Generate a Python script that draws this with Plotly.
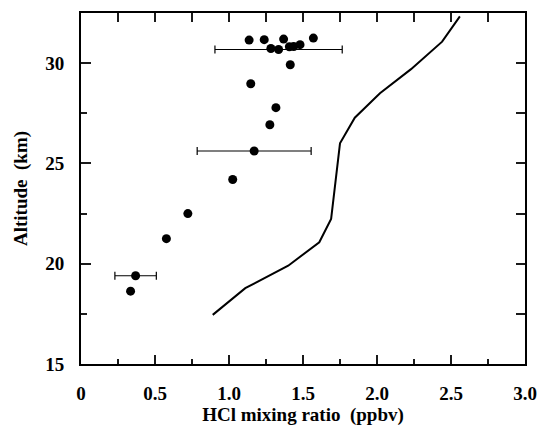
import plotly.graph_objects as go

# Measured points (no error bars)
pts_x = [1.136, 1.238, 1.369, 1.570, 1.283, 1.408, 1.437, 1.480, 1.414,
         1.147, 1.317, 1.276, 1.025, 0.722, 0.577, 0.335]
pts_y = [31.15, 31.17, 31.20, 31.25, 30.73, 30.82, 30.83, 30.92, 29.92,
         28.97, 27.78, 26.93, 24.20, 22.50, 21.25, 18.63]

# Points with error bars
err_x = [1.335, 1.170, 0.369]
err_y = [30.68, 25.62, 19.40]
err_w = [0.43, 0.385, 0.14]

# Model profile
model_x = [0.89, 1.11, 1.40, 1.61, 1.69, 1.75, 1.85, 2.02, 2.23, 2.44, 2.56]
model_y = [17.45, 18.78, 19.90, 21.07, 22.23, 26.00, 27.28, 28.50, 29.70, 31.07, 32.33]

x_ticks = [0, 0.5, 1.0, 1.5, 2.0, 2.5, 3.0]
x_labels = ["0", "0.5", "1.0", "1.5", "2.0", "2.5", "3.0"]
y_ticks = [15, 20, 25, 30]
x_range = [0, 3.0]
y_range = [15, 32.5]

FONT = "Liberation Serif"
INK = "#1a1a1a"
tick_font = dict(family=FONT, size=19, color="black", weight="bold")
title_font = dict(family=FONT, size=19, color="black", weight="bold")

fig = go.Figure()
fig.add_trace(go.Scatter(x=model_x, y=model_y, mode="lines",
                         line=dict(color="black", width=2), showlegend=False))
fig.add_trace(go.Scatter(x=pts_x, y=pts_y, mode="markers",
                         marker=dict(color="black", size=9), showlegend=False))
fig.add_trace(go.Scatter(x=err_x, y=err_y, mode="markers",
                         marker=dict(color="black", size=9),
                         error_x=dict(type="data", array=err_w, color="black",
                                      thickness=1.2, width=4),
                         showlegend=False))
# trace anchoring the top/right tick axes
fig.add_trace(go.Scatter(x=[1.0], y=[20.0], xaxis="x2", yaxis="y2",
                         mode="markers", marker=dict(opacity=0),
                         showlegend=False, hoverinfo="skip"))

base = dict(showgrid=False, zeroline=False, showline=True, linecolor="black",
            linewidth=2, ticks="inside", tickcolor=INK, tickwidth=1.5,
            automargin=False)

fig.update_layout(
    width=539, height=426,
    margin=dict(l=81, r=14, t=13, b=62),
    paper_bgcolor="white", plot_bgcolor="white",
    xaxis=dict(range=x_range, tickvals=x_ticks, ticktext=x_labels,
               tickfont=tick_font, ticklabelstandoff=11, ticklen=9,
               minor=dict(dtick=0.25, ticks="inside", ticklen=5,
                          tickcolor=INK, tickwidth=1.5),
               title=dict(text="HCl mixing ratio  (ppbv)", standoff=6,
                          font=title_font),
               **base),
    yaxis=dict(range=y_range, tickvals=y_ticks, ticklen=10,
               tickfont=tick_font, ticklabelstandoff=11,
               minor=dict(dtick=2.5, ticks="inside", ticklen=6,
                          tickcolor=INK, tickwidth=1.5),
               title=dict(text="Altitude  (km)", standoff=13,
                          font=title_font),
               **base),
    xaxis2=dict(range=x_range, overlaying="x", side="top", anchor="y2",
                tick0=0, dtick=0.25, ticklen=9, showticklabels=False, **base),
    yaxis2=dict(range=y_range, overlaying="y", side="right", anchor="x2",
                tick0=15, dtick=2.5, ticklen=9, showticklabels=False, **base),
)

fig.write_html("out.html", config={"displayModeBar": False},
               post_script="document.body.style.margin='0';"
                           "document.documentElement.style.margin='0';")
